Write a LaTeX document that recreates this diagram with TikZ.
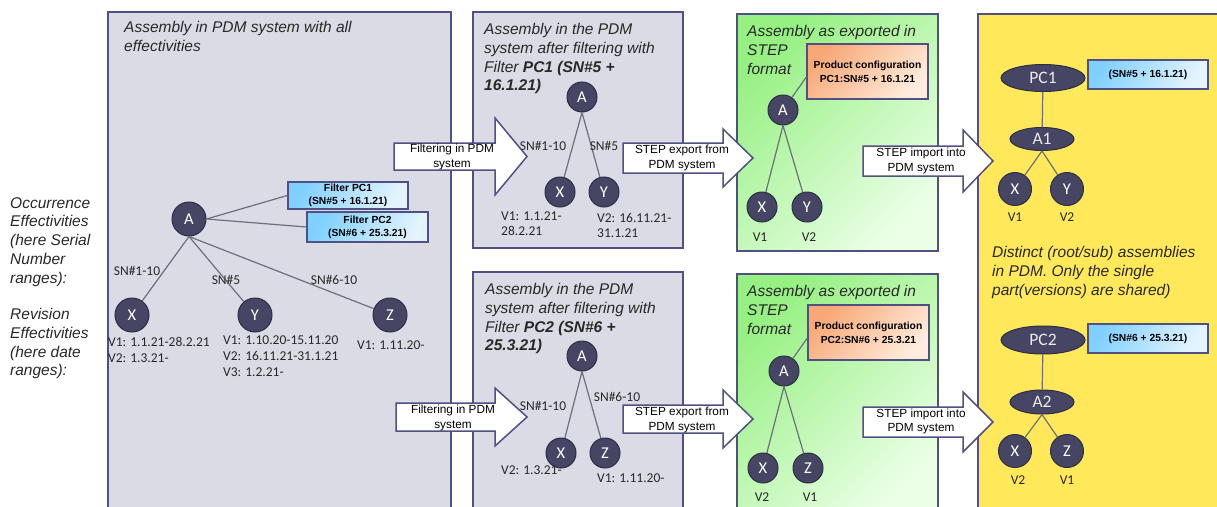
\documentclass[tikz,border=0pt]{standalone}
\usepackage{fontspec}
\setmainfont{Liberation Sans}
\newfontfamily\calib{Carlito}
\usetikzlibrary{shapes.geometric,calc}
\definecolor{pgray}{RGB}{219,219,229}
\definecolor{pborder}{RGB}{80,80,130}
\definecolor{nfill}{RGB}{70,70,100}
\definecolor{nborder}{RGB}{45,45,70}
\definecolor{ecol}{RGB}{110,110,125}
\definecolor{ylw}{RGB}{255,233,90}
\definecolor{grn1}{RGB}{150,240,130}
\definecolor{grn2}{RGB}{234,255,230}
\definecolor{org1}{RGB}{248,168,118}
\definecolor{org2}{RGB}{255,236,222}
\definecolor{blu1}{RGB}{128,208,255}
\definecolor{blu2}{RGB}{228,244,255}
\definecolor{txt}{RGB}{40,40,40}
\tikzset{
  panel/.style={draw=pborder, line width=1.8pt},
  tnode/.style={circle, draw=nborder, fill=nfill, line width=1pt, inner sep=0pt, text=white, font=\calib\fontsize{16.5}{16.5}\selectfont},
  enode/.style={ellipse, draw=nborder, fill=nfill, line width=1pt, inner sep=0pt, text=white!92!black, font=\calib\fontsize{17.5}{17.5}\selectfont},
  edge/.style={draw=ecol, line width=1.2pt},
  ttl/.style={anchor=north west, inner sep=0pt, align=left, text=txt, font=\fontsize{15.5}{18.8}\selectfont\itshape},
  vlab/.style={anchor=north west, inner sep=0pt, align=left, text=txt, font=\calib\fontsize{13.5}{16}\selectfont},
  vlabm/.style={vlab, font=\calib\fontsize{13.5}{15}\selectfont},
  clab/.style={inner sep=0pt, text=txt, font=\calib\fontsize{13.5}{16}\selectfont},
  atext/.style={align=center, inner sep=0pt, font=\fontsize{11.8}{14.5}\selectfont},
  barrow/.style={draw=pborder, fill=white, line width=1.5pt, line join=miter},
  bluebox/.style={draw=pborder, line width=1.5pt, top color=blu1, bottom color=blu2, shading angle=60, align=center, inner sep=0pt, font=\bfseries\fontsize{10.3}{13}\selectfont},
  orgbox/.style={draw=pborder, line width=1.5pt, top color=org1, bottom color=org2, shading angle=45, align=center, inner sep=0pt, font=\bfseries\fontsize{10.3}{14}\selectfont},
}
\begin{document}
\begin{tikzpicture}[x=1pt,y=-1pt]
\useasboundingbox (0,0) rectangle (1217,506);
\fill[white] (0,0) rectangle (1217,506);

% panels
\draw[panel, fill=pgray] (108,12) rectangle (451,514);
\draw[panel, fill=pgray] (473,12) rectangle (683,248);
\draw[panel, fill=pgray] (473,272) rectangle (683,514);
\draw[panel, top color=grn1, bottom color=grn2, shading angle=45] (737,14) rectangle (938,251);
\draw[panel, top color=grn1, bottom color=grn2, shading angle=45] (737,274) rectangle (938,514);
\draw[panel, fill=ylw] (978,14) rectangle (1224,514);

% side texts
\node[ttl] (occ) at (10,197) {Occurrence\\Effectivities\\(here Serial\\Number\\ranges):};
\node[ttl] (rev) at (10,308) {Revision\\Effectivities\\(here date\\ranges):};

% titles
\node[ttl] (t0) at (124,21.5) {Assembly in PDM system with all\\effectivities};
\node[ttl] (t1) at (484,23) {Assembly in the PDM\\system after filtering with\\Filter \textbf{PC1 (SN\#5 +}\\\textbf{16.1.21)}};
\node[ttl] (t2) at (485,283) {Assembly in the PDM\\system after filtering with\\Filter \textbf{PC2 (SN\#6 +}\\\textbf{25.3.21)}};
\node[ttl] (t3) at (747,25) {Assembly as exported in\\STEP\\format};
\node[ttl] (t4) at (747,285) {Assembly as exported in\\STEP\\format};
\node[ttl] (t5) at (992,246) {Distinct (root/sub) assemblies\\in PDM. Only the single\\part(versions) are shared)};

% ---------- left tree
\node[tnode, minimum size=34pt] (LA) at (189,219) {A};
\node[tnode, minimum size=34pt] (LX) at (132,315) {X};
\node[tnode, minimum size=34pt] (LY) at (255,315) {Y};
\node[tnode, minimum size=34pt] (LZ) at (390,315) {Z};
\node[bluebox, minimum width=120pt, minimum height=27pt] (F1) at (348,195.5) {Filter PC1\\(SN\#5 + 16.1.21)};
\node[bluebox, minimum width=121pt, minimum height=30pt] (F2) at (367.5,227) {Filter PC2\\(SN\#6 + 25.3.21)};
\draw[edge] (LA.south) -- (LX);
\draw[edge] (LA.south) -- (LY);
\draw[edge] (LA.south) -- (LZ);
\draw[edge] (LA.east) -- (F1.west);
\draw[edge] (LA.east) -- (F2.west);
\node[clab] (ls1) at (137,270.5) {SN\#1-10};
\node[clab] (ls2) at (226,280) {SN\#5};
\node[clab] (ls3) at (334,280) {SN\#6-10};
\node[vlab] (lvx) at (108,337) {V1: 1.1.21-28.2.21\\V2: 1.3.21-};
\node[vlab] (lvy) at (223,336) {V1: 1.10.20-15.11.20\\V2: 16.11.21-31.1.21\\V3: 1.2.21-};
\node[vlab] (lvz) at (357,341) {V1: 1.11.20-};

% ---------- middle top
\node[tnode, minimum size=30pt] (MA) at (582,97) {A};
\node[tnode, minimum size=30pt] (MX) at (560,192) {X};
\node[tnode, minimum size=30pt] (MY) at (604,192) {Y};
\draw[edge] (MA.south) -- (MX);
\draw[edge] (MA.south) -- (MY);
\node[clab] (ms1) at (543,146) {SN\#1-10};
\node[clab] (ms2) at (604,146) {SN\#5};
\node[vlabm] (mvx) at (501,212) {V1: 1.1.21-\\28.2.21};
\node[vlabm] (mvy) at (597,213) {V2: 16.11.21-\\31.1.21};

% ---------- middle bottom
\node[tnode, minimum size=30pt] (NA) at (582,356) {A};
\node[tnode, minimum size=30pt] (NX) at (561,453) {X};
\node[tnode, minimum size=30pt] (NZ) at (605,453) {Z};
\draw[edge] (NA.south) -- (NX);
\draw[edge] (NA.south) -- (NZ);
\node[clab] (ns1) at (543,406) {SN\#1-10};
\node[clab] (ns2) at (617,397) {SN\#6-10};
\node[clab, anchor=west] (nvx) at (501,470) {V2: 1.3.21-};
\node[clab, anchor=west] (nvz) at (597,478) {V1: 1.11.20-};

% ---------- green top
\node[orgbox, minimum width=121pt, minimum height=55pt] (PB1) at (867.5,71.5) {Product configuration\\PC1:SN\#5 + 16.1.21};
\node[tnode, minimum size=30pt] (GA) at (783,110) {A};
\node[tnode, minimum size=30pt] (GX) at (762,207) {X};
\node[tnode, minimum size=30pt] (GY) at (807,207) {Y};
\draw[edge] (GA) -- ($(PB1.north west)!0.6!(PB1.south west)$);
\draw[edge] (GA.south) -- (GX);
\draw[edge] (GA.south) -- (GY);
\node[clab] (gv1) at (760,237) {V1};
\node[clab] (gv2) at (809,237) {V2};

% ---------- green bottom
\node[orgbox, minimum width=121pt, minimum height=55pt] (PB2) at (868.5,332.5) {Product configuration\\PC2:SN\#6 + 25.3.21};
\node[tnode, minimum size=30pt] (HA) at (784,371) {A};
\node[tnode, minimum size=30pt] (HX) at (763,468) {X};
\node[tnode, minimum size=30pt] (HZ) at (808,468) {Z};
\draw[edge] (HA) -- ($(PB2.north west)!0.6!(PB2.south west)$);
\draw[edge] (HA.south) -- (HX);
\draw[edge] (HA.south) -- (HZ);
\node[clab] (hv1) at (762,497) {V2};
\node[clab] (hv2) at (810,497) {V1};

% ---------- yellow top
\node[enode, minimum width=84pt, minimum height=27pt] (PC1) at (1043,78) {PC1};
\node[bluebox, minimum width=120pt, minimum height=29pt] (B1) at (1148,74.5) {(SN\#5 + 16.1.21)};
\node[enode, minimum width=64pt, minimum height=23pt] (A1) at (1042,139) {A1};
\node[tnode, minimum size=33pt] (YX) at (1015,189) {X};
\node[tnode, minimum size=33pt] (YY) at (1067,189) {Y};
\draw[edge] (PC1) -- (A1);
\draw[edge] (A1.south) -- (YX);
\draw[edge] (A1.south) -- (YY);
\node[clab] (yv1) at (1015,217) {V1};
\node[clab] (yv2) at (1067,217) {V2};

% ---------- yellow bottom
\node[enode, minimum width=84pt, minimum height=28pt] (PC2) at (1043,340) {PC2};
\node[bluebox, minimum width=120pt, minimum height=29pt] (B2) at (1148,338.5) {(SN\#6 + 25.3.21)};
\node[enode, minimum width=64pt, minimum height=24pt] (A2) at (1042,402) {A2};
\node[tnode, minimum size=33pt] (ZX) at (1015,451) {X};
\node[tnode, minimum size=33pt] (ZZ) at (1067,451) {Z};
\draw[edge] (PC2) -- (A2);
\draw[edge] (A2.south) -- (ZX);
\draw[edge] (A2.south) -- (ZZ);
\node[clab] (zv1) at (1018,480) {V2};
\node[clab] (zv2) at (1067,480) {V1};

% ---------- block arrows
\draw[barrow] (394,143) -- (495,143) -- (495,118) -- (527,156.5) -- (495,195) -- (495,170) -- (394,170) -- cycle;
\node[atext] (fa1) at (452,157) {Filtering in PDM\\system};
\draw[barrow] (396,403) -- (495,403) -- (495,388) -- (527,417) -- (495,446) -- (495,431) -- (396,431) -- cycle;
\node[atext] (fa2) at (453,418) {Filtering in PDM\\system};
\draw[barrow] (623,143) -- (723,143) -- (723,129) -- (753,158) -- (723,187) -- (723,173) -- (623,173) -- cycle;
\node[atext] (ea1) at (682,158) {STEP export from\\PDM system};
\draw[barrow] (623,405) -- (723,405) -- (723,390) -- (753,419) -- (723,448) -- (723,433) -- (623,433) -- cycle;
\node[atext] (ea2) at (682,420) {STEP export from\\PDM system};
\draw[barrow] (863,146) -- (963,146) -- (963,130) -- (993,161) -- (963,192) -- (963,176) -- (863,176) -- cycle;
\node[atext] (ia1) at (921,161) {STEP import into\\PDM system};
\draw[barrow] (863,407) -- (963,407) -- (963,392) -- (993,422) -- (963,452) -- (963,437) -- (863,437) -- cycle;
\node[atext] (ia2) at (921,421.5) {STEP import into\\PDM system};
\end{tikzpicture}
\end{document}
